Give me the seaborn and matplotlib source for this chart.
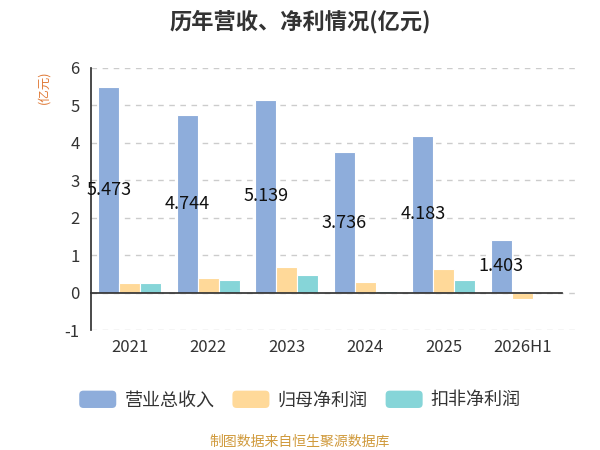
import numpy as np
import pandas as pd
import matplotlib
matplotlib.use('Agg')
import matplotlib.pyplot as plt
import seaborn as sns
from matplotlib.patches import FancyBboxPatch
from matplotlib.legend_handler import HandlerPatch

# 数据
years = ['2021', '2022', '2023', '2024', '2025', '2026H1']
revenue = [5.473, 4.744, 5.139, 3.736, 4.183, 1.403]      # 营业总收入
net_profit = [0.27, 0.39, 0.68, 0.28, 0.62, -0.16]        # 归母净利润
deducted_profit = [0.25, 0.35, 0.46, 0.06, 0.35, np.nan]  # 扣非净利润
series_names = ['营业总收入', '归母净利润', '扣非净利润']
colors = ['#8EADDB', '#FFD999', '#86D5D8']

sns.set_theme(style="white")
plt.rcParams['font.family'] = ['Noto Sans CJK SC', 'DejaVu Sans']
plt.rcParams['axes.unicode_minus'] = False

df = pd.DataFrame({
    'year': years * 3,
    'series': np.repeat(series_names, len(years)),
    'value': revenue + net_profit + deducted_profit,
})


class RoundHandler(HandlerPatch):
    # 圆角图例色块
    def create_artists(self, legend, orig_handle, xdescent, ydescent,
                       width, height, fontsize, trans):
        p = FancyBboxPatch((-xdescent, -ydescent), width, height,
                           boxstyle='round,pad=0,rounding_size=3',
                           facecolor=orig_handle.get_facecolor(),
                           edgecolor='none', transform=trans)
        return [p]


fig = plt.figure(figsize=(6, 4.5), dpi=100)
ax = fig.add_axes([0.151, 0.266, 0.811, 0.584])

sns.barplot(data=df, x='year', y='value', hue='series', hue_order=series_names,
            palette=colors, width=0.8, edgecolor='white', linewidth=0.8,
            saturation=1, legend=False, ax=ax)

# 营业总收入数值标签(柱中部)
n = len(series_names)
bw = 0.8 / n
for i, v in enumerate(revenue):
    ax.text(i - bw, v / 2, f'{v:.3f}', ha='center', va='center',
            fontsize=13, color='#111111')

ax.set_xlim(-0.5, 5.7)
ax.set_ylim(-1, 6)
ax.set_yticks(range(-1, 7))
ax.grid(axis='y', linestyle=(0, (4, 4)), color='#cccccc', linewidth=1)
ax.set_axisbelow(True)

for s in ['top', 'right']:
    ax.spines[s].set_visible(False)
ax.spines['left'].set_color('#333333')
ax.spines['bottom'].set_color('#333333')
ax.spines['bottom'].set_position(('data', 0))
ax.spines['bottom'].set_bounds(-0.5, 5.5)

ax.set_xticks(np.arange(-0.5, 6, 1), minor=True)
ax.tick_params(axis='x', which='major', length=0, pad=33, labelsize=12,
               labelcolor='#333333')
ax.tick_params(axis='x', which='minor', length=6, width=1, color='#333333',
               direction='out')
ax.tick_params(axis='y', length=5, width=1, color='#333333', direction='out',
               labelsize=12, labelcolor='#333333', pad=3)

ax.set_xlabel('')
ax.set_ylabel('')
fig.text(0.073, 0.806, '(亿元)', rotation=90, ha='center', va='center',
         fontsize=9, color='#E07B39')

fig.suptitle('历年营收、净利情况(亿元)', x=0.5, y=0.978, fontsize=16,
             fontweight='bold', color='#333333')

handles = [plt.Rectangle((0, 0), 1, 1, facecolor=c) for c in colors]
fig.legend(handles, series_names, loc='center', bbox_to_anchor=(0.5, 0.111),
           ncol=3, frameon=False, fontsize=13, handlelength=2.05,
           handleheight=1.1, columnspacing=1.0, handletextpad=0.45,
           labelcolor='#333333',
           handler_map={plt.Rectangle: RoundHandler()})

fig.text(0.5, 0.018, '制图数据来自恒生聚源数据库', ha='center', va='center',
         fontsize=10, color='#D09A3C')

fig.savefig('out.png', dpi=100)
